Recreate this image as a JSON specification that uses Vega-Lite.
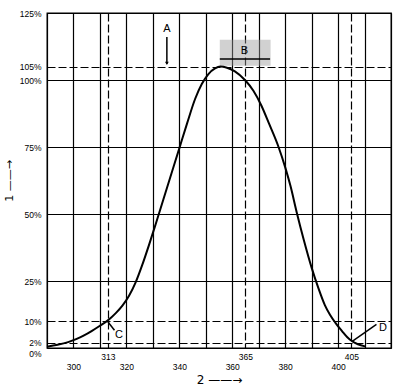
{
  "$schema": "https://vega.github.io/schema/vega-lite/v6.json",
  "width": 344,
  "height": 335,
  "autosize": {"type": "none"},
  "padding": {"left": 47, "top": 13, "right": 8, "bottom": 43},
  "background": "white",
  "config": {"view": {"stroke": "black", "strokeWidth": 1.3}, "font": "Liberation Sans"},
  "encoding": {
    "x": {
      "field": "x", "type": "quantitative",
      "scale": {"domain": [290, 420], "nice": false, "zero": false},
      "axis": {
        "values": [290, 300, 310, 313, 320, 330, 340, 350, 360, 365, 370, 380, 390, 400, 405, 410, 420],
        "labelExpr": "indexof([300,313,320,340,360,365,380,400,405], datum.value) >= 0 ? datum.label : ''",
        "ticks": false, "domain": false, "grid": true,
        "gridColor": "black", "gridOpacity": 1, "gridWidth": 1.2,
        "gridDash": {"condition": {"test": "datum.value == 313 || datum.value == 365 || datum.value == 405", "value": [8, 3]}, "value": []},
        "labelPadding": {"condition": {"test": "datum.value == 313 || datum.value == 365 || datum.value == 405", "value": 4}, "value": 14},
        "labelOverlap": false, "labelFlush": false, "labelBound": false,
        "labelFont": "Liberation Sans", "labelFontSize": 8.5, "labelColor": "black",
        "title": "2 ——→", "titleFontSize": 12, "titleFontWeight": "normal", "titleColor": "black", "titlePadding": 4, "titleFont": "DejaVu Sans"
      }
    },
    "y": {
      "field": "y", "type": "quantitative",
      "scale": {"domain": [0, 125], "nice": false, "zero": true},
      "axis": {
        "values": [0, 2, 10, 25, 50, 75, 100, 105, 125],
        "labelExpr": "datum.label + '%'",
        "ticks": false, "domain": false, "grid": true,
        "gridColor": "black", "gridOpacity": 1, "gridWidth": 1.2,
        "gridDash": {"condition": {"test": "datum.value == 2 || datum.value == 10 || datum.value == 105", "value": [8, 3]}, "value": []},
        "labelOffset": {"condition": {"test": "datum.value == 0", "value": 5}, "value": 0},
        "labelPadding": 6,
        "labelOverlap": false, "labelFlush": false, "labelBound": false,
        "labelFont": "Liberation Sans", "labelFontSize": 8.5, "labelColor": "black",
        "title": "1  ——→", "titleFontSize": 11, "titleFontWeight": "normal", "titleColor": "black", "titlePadding": 5, "titleFont": "DejaVu Sans"
      }
    }
  },
  "layer": [
    {
      "data": {"values": [{"x": 355.3, "x2": 374.5, "y": 105.3, "y2": 115}]},
      "mark": {"type": "rect", "fill": "#999999", "opacity": 0.45},
      "encoding": {"x2": {"field": "x2"}, "y2": {"field": "y2"}}
    },
    {
      "data": {"values": [
        {"x": 290, "y": 0.5}, {"x": 294, "y": 1.2}, {"x": 298, "y": 2.2}, {"x": 301, "y": 3.3},
        {"x": 304, "y": 4.7}, {"x": 307, "y": 6.4}, {"x": 310, "y": 8.3}, {"x": 313, "y": 10.3},
        {"x": 316, "y": 13}, {"x": 318.5, "y": 15.8}, {"x": 321, "y": 19.5}, {"x": 323.5, "y": 24.5},
        {"x": 326, "y": 31}, {"x": 328.5, "y": 38.3}, {"x": 331, "y": 46}, {"x": 334, "y": 55.5},
        {"x": 337, "y": 65}, {"x": 340, "y": 74.5}, {"x": 343, "y": 84}, {"x": 346, "y": 93},
        {"x": 348.5, "y": 98.5}, {"x": 351, "y": 102.2}, {"x": 353.5, "y": 104.3}, {"x": 355.5, "y": 105},
        {"x": 358, "y": 104.6}, {"x": 361, "y": 103.2}, {"x": 364.8, "y": 100}, {"x": 368, "y": 96},
        {"x": 371, "y": 90.5}, {"x": 374, "y": 83.5}, {"x": 377.5, "y": 75}, {"x": 380, "y": 67.5},
        {"x": 382, "y": 60.5}, {"x": 384.4, "y": 50.5}, {"x": 387, "y": 40.5}, {"x": 390, "y": 30},
        {"x": 392.5, "y": 22.5}, {"x": 395, "y": 16}, {"x": 397, "y": 12.3}, {"x": 399, "y": 9.4},
        {"x": 401.5, "y": 6.3}, {"x": 403.5, "y": 4}, {"x": 405.2, "y": 2.6}, {"x": 407.5, "y": 1.4},
        {"x": 410.2, "y": 0.6}
      ]},
      "mark": {"type": "line", "color": "black", "strokeWidth": 2, "interpolate": "monotone"}
    },
    {
      "data": {"values": [
        {"x": 335.3, "y": 116, "x2": 335.3, "y2": 106},
        {"x": 313, "y": 9.8, "x2": 315.5, "y2": 6.6},
        {"x": 405.2, "y": 2.4, "x2": 414.5, "y2": 8.8},
        {"x": 355.3, "y": 107.8, "x2": 374.3, "y2": 107.8}
      ]},
      "mark": {"type": "rule", "color": "black", "strokeWidth": 1.5},
      "encoding": {"x2": {"field": "x2"}, "y2": {"field": "y2"}}
    },
    {
      "data": {"values": [{"x": 335.3, "y": 106.2}]},
      "mark": {"type": "point", "shape": "triangle-down", "filled": true, "color": "black", "size": 14, "opacity": 1}
    },
    {
      "data": {"values": [
        {"label": "A", "x": 335.3, "y": 119},
        {"label": "B", "x": 364.6, "y": 110.8},
        {"label": "C", "x": 317.2, "y": 4.8},
        {"label": "D", "x": 417, "y": 7.6}
      ]},
      "mark": {"type": "text", "color": "black", "fontSize": 11, "font": "Liberation Sans", "align": "center", "baseline": "middle"},
      "encoding": {"text": {"field": "label"}}
    }
  ]
}
